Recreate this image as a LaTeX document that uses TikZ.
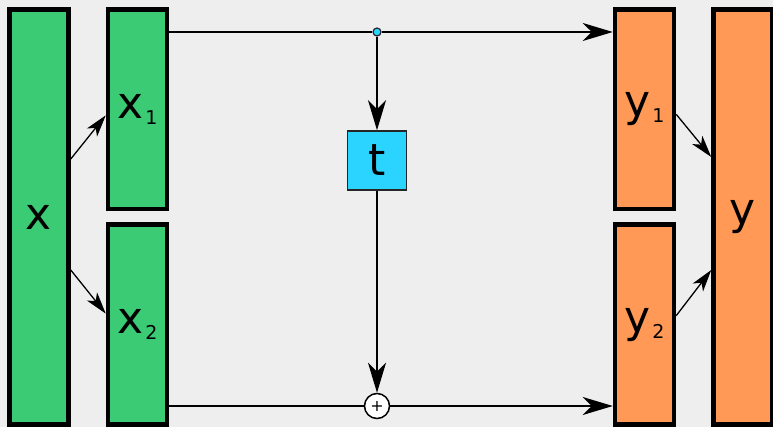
\documentclass[tikz,border=0pt]{standalone}
\usepackage{fontspec}
\setmainfont{DejaVu Sans}
\usepackage{tikz}
\usetikzlibrary{arrows.meta,positioning,calc}
\definecolor{bgcolor}{HTML}{EEEEEE}
\definecolor{incolor}{HTML}{3ACB74}
\definecolor{outcolor}{HTML}{FF9955}
\definecolor{netcolor}{HTML}{2AD4FF}
\newcommand{\idx}[1]{\kern2pt\raisebox{-6pt}{\fontsize{19}{19}\selectfont #1}}

\begin{document}
\begin{tikzpicture}[
  x=1pt, y=-1pt,
  bar/.style={rectangle,draw=black,line width=4.5pt,minimum width=59pt,inner sep=0pt,font=\fontsize{44}{44}\selectfont},
  half/.style={bar,minimum height=199.75pt},
  full/.style={bar,minimum height=415pt},
  arr/.style={-{Stealth[length=30pt,width=18pt,inset=9pt]},line width=1.5pt},
  sarr/.style={-{Stealth[length=22pt,width=13pt,inset=6pt]},line width=1.3pt}
]
\fill[bgcolor] (0,0) rectangle (773,427);
\useasboundingbox (0,0) rectangle (773,427);

% input side
\node[full,fill=incolor] (x) at (39,217) {x};
\node[half,fill=incolor,right=35pt of x.north east,anchor=north west] (x1) {x\idx{1}};
\node[half,fill=incolor,below=11pt of x1] (x2) {x\idx{2}};

% output side
\node[full,fill=outcolor] (y) at (743,217) {y};
\node[half,fill=outcolor,left=35pt of y.north west,anchor=north east] (y1) {y\idx{1}};
\node[half,fill=outcolor,below=11pt of y1] (y2) {y\idx{2}};

% coupling function and the two junctions
\node[circle,draw=black!85,line width=1.2pt,fill=netcolor,minimum size=8pt,inner sep=0pt] (split) at (377,32) {};
\node[rectangle,draw=black!85,line width=1.6pt,fill=netcolor,minimum size=59pt,inner sep=0pt,font=\fontsize{44}{44}\selectfont] (t) at (377,160.5) {t};
\node[circle,draw=black,line width=1.5pt,fill=white,minimum size=25pt,inner sep=0pt,font=\fontsize{16}{16}\selectfont] (plus) at (377,406) {+};

\draw[line width=1.5pt] (x1.east |- split) -- (split);
\draw[arr] (split) -- (y1.west |- split);
\draw[arr] (split) -- (t);
\draw[arr] (t) -- (plus);
\draw[line width=1.5pt] (x2.east |- plus) -- (plus);
\draw[arr] (plus) -- (y2.west |- plus);

% split and merge
\draw[sarr] ($(x.east)+(0,-58)$) -- ($(x1.west)+(0,6)$);
\draw[sarr] ($(x.east)+(0,53)$) -- ($(x2.west)+(0,-11)$);
\draw[sarr] ($(y1.east)+(0,5)$) -- ($(y.west)+(0,-60)$);
\draw[sarr] ($(y2.east)+(0,-9)$) -- ($(y.west)+(0,53)$);
\end{tikzpicture}
\end{document}
